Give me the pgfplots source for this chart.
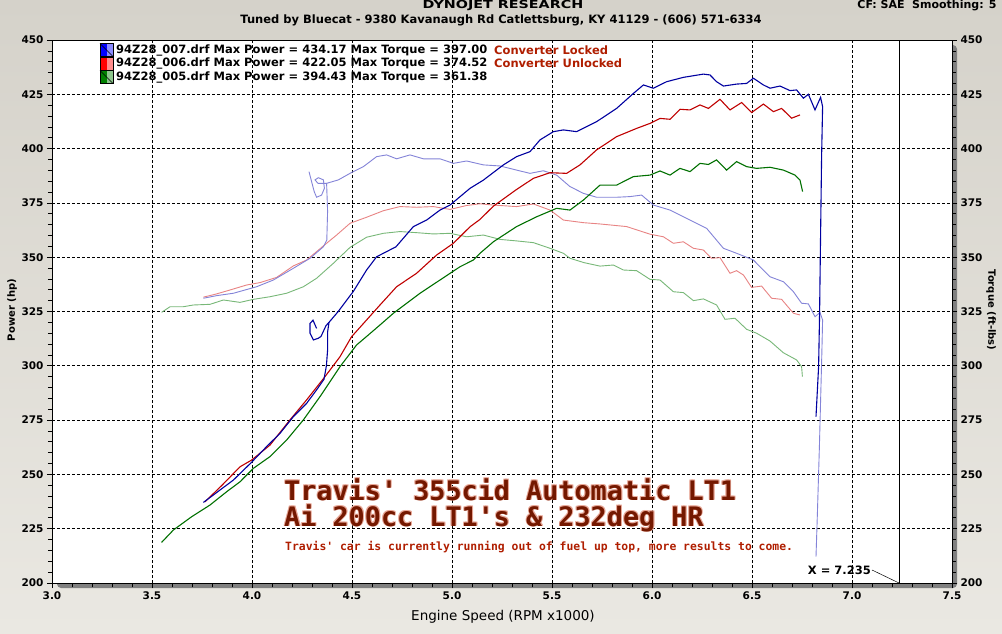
\documentclass[border=0pt]{standalone}
\usepackage{pgfplots}
\pgfplotsset{compat=1.18}
\usepackage{fontspec}
\setmainfont{DejaVu Sans}
\newfontfamily\bigmono{DejaVu Sans Mono}
\definecolor{bgtop}{HTML}{D5D2CA}
\definecolor{bgbot}{HTML}{EAE8E2}
\definecolor{shadowgray}{HTML}{808080}
\definecolor{pblue}{HTML}{0000A0}
\definecolor{pred}{HTML}{C00000}
\definecolor{pgreen}{HTML}{007000}
\definecolor{tblue}{HTML}{8484D8}
\definecolor{tred}{HTML}{E88484}
\definecolor{tgreen}{HTML}{78B878}
\definecolor{txtred}{HTML}{B01E00}
\definecolor{bigred}{HTML}{741800}
\definecolor{bigglow}{HTML}{E8A898}
\begin{document}
\begin{tikzpicture}[x=1pt,y=1pt]
\path[use as bounding box] (0,0) rectangle (1002,633);
\shade[top color=bgtop, bottom color=bgbot] (0,0) rectangle (1002,633);
\fill[shadowgray, rounded corners=4pt] (57,45) rectangle (957,588);
\begin{axis}[
  at={(52pt,50pt)}, anchor=south west, scale only axis,
  width=900pt, height=543pt,
  xmin=3, xmax=7.5, ymin=200, ymax=450,
  axis background/.style={fill=white},
  axis line style={black, line width=0.8pt},
  xtick={3,3.5,4,4.5,5,5.5,6,6.5,7,7.5},
  ytick={200,225,250,275,300,325,350,375,400,425,450},
  minor x tick num=4, minor y tick num=4,
  tick pos=left, tick align=outside,
  major tick length=5pt, minor tick length=4pt,
  tick style={black, line width=0.7pt},
  grid=major,
  major grid style={black, line width=0.7pt, dash pattern=on 3pt off 2pt},
  /pgf/number format/assume math mode=true,
  ticklabel style={font=\bfseries\fontsize{10.5}{12}\selectfont},
  xticklabel style={/pgf/number format/.cd, fixed, fixed zerofill, precision=1},
  yticklabel style={/pgf/number format/.cd, fixed, precision=0},
  clip=false,
]
% cursor line
\addplot[black, line width=0.8pt] coordinates {(7.235,200) (7.235,450)};
% ---- torque curves (light)
\addplot[tgreen, line width=0.9pt] coordinates {
(3.548,324.6) (3.59,327.2) (3.657,327.2) (3.707,328) (3.79,328.3) (3.857,330.3) (3.94,329.2) (4.007,330.6) (4.09,331.8) (4.173,333.4) (4.257,336.4) (4.323,340.3) (4.407,347.2) (4.49,354.5) (4.573,359.2) (4.657,361) (4.74,361.8) (4.823,361.3) (4.907,360.7) (4.99,361) (5.073,359.4) (5.157,360.2) (5.24,358.2) (5.323,357.5) (5.407,356.7) (5.49,354.1) (5.557,351.8) (5.59,349.5) (5.66,347.5) (5.74,345.9) (5.807,346.4) (5.857,344.1) (5.923,343.8) (5.99,339.8) (6.04,339.5) (6.107,334.1) (6.157,333.7) (6.207,330) (6.257,330.8) (6.323,328) (6.365,321.4) (6.415,321.9) (6.473,316.8) (6.523,315) (6.59,311.4) (6.657,306) (6.723,302.7) (6.748,299.6) (6.752,295)
};
\addplot[tred, line width=0.9pt] coordinates {
(3.757,331.6) (3.823,333.1) (3.89,334.9) (3.973,337.2) (4.04,338.3) (4.123,340.7) (4.207,346) (4.273,348.7) (4.357,355.2) (4.423,360.2) (4.49,365.6) (4.573,368.4) (4.657,371.4) (4.74,373.3) (4.823,373) (4.907,373.3) (4.99,372) (5.073,373.8) (5.14,374.6) (5.207,374) (5.323,373.3) (5.407,374.5) (5.49,371.7) (5.557,367.1) (5.657,365.9) (5.74,365.3) (5.873,364.1) (5.99,360.6) (6.057,359.4) (6.107,356.4) (6.157,357.1) (6.207,354.1) (6.257,353.3) (6.298,349.5) (6.34,349.8) (6.39,342.6) (6.423,343.8) (6.457,341.8) (6.498,336.1) (6.548,336.7) (6.598,331.1) (6.648,330.6) (6.707,324.2) (6.74,323.4)
};
\addplot[tblue, line width=0.9pt] coordinates {
(3.757,331.1) (3.823,332.3) (3.907,333.4) (4.023,336.4) (4.107,339.5) (4.207,344.9) (4.29,349.5) (4.357,354.8) (4.374,357.9) (4.378,371.1) (4.373,384)
(4.432,385.6) (4.49,388.6) (4.507,389.4) (4.557,391.7) (4.623,396.3) (4.673,397.1) (4.723,395.3) (4.79,397.1) (4.857,395.3) (4.94,395.3) (5.007,393.2) (5.073,394.3) (5.157,392.5) (5.24,392) (5.323,390.1) (5.39,388.6) (5.457,389.8) (5.523,387.8) (5.59,382.5) (5.657,379.4) (5.723,377.6) (5.823,377.6) (5.89,377.9) (5.948,378.6) (6.007,374) (6.09,371.7) (6.19,367.1) (6.273,363.3) (6.357,354.1) (6.423,351.8) (6.507,348.7) (6.59,341) (6.657,338.7) (6.707,334.1) (6.748,328.8) (6.782,328.5) (6.815,322.6) (6.84,324.5) (6.853,321.1) (6.849,305) (6.843,284) (6.837,262.8) (6.827,232.1) (6.82,212.1)
};
\addplot[tblue, line width=0.9pt] coordinates {
(4.373,384) (4.33,384) (4.315,385.6) (4.332,386.6) (4.357,385.6) (4.362,381.7) (4.348,378.6) (4.323,377.6) (4.311,380.2) (4.285,389.4)
};
% ---- power curves (dark)
\addplot[pgreen, line width=1.1pt] coordinates {
(3.548,218.7) (3.607,224.4) (3.698,230.5) (3.79,235.9) (3.873,242) (3.94,246.6) (4.007,252.8) (4.09,258.2) (4.173,265.8) (4.257,275.1) (4.34,285.8) (4.44,299.6) (4.523,309.6) (4.573,313.5) (4.64,318.8) (4.707,324.2) (4.84,333.4) (4.94,339.5) (5.04,345.6) (5.107,348.7) (5.14,351.8) (5.207,357.1) (5.323,364.1) (5.423,368.6) (5.523,372.5) (5.59,371.7) (5.657,376.3) (5.74,383.2) (5.823,383.2) (5.907,387.1) (5.99,387.8) (6.04,389.7) (6.09,387.8) (6.14,390.9) (6.19,389.4) (6.24,393.2) (6.282,392.7) (6.323,394.8) (6.373,390.1) (6.423,394) (6.473,391.7) (6.523,390.9) (6.59,391.4) (6.657,390.1) (6.715,387.8) (6.74,385.5) (6.753,380.2)
};
\addplot[pred, line width=1.1pt] coordinates {
(3.765,237.4) (3.85,245) (3.94,253.5) (3.998,256.6) (4.09,263.5) (4.19,275.1) (4.273,284.3) (4.365,295) (4.44,304.2) (4.498,313.4) (4.573,321.1) (4.64,328) (4.723,336.4) (4.823,342.6) (4.923,351) (5.007,356.4) (5.09,364) (5.14,367.4) (5.207,373.5) (5.323,381.2) (5.407,386.3) (5.49,388.9) (5.573,388.6) (5.64,392.5) (5.723,399.4) (5.823,405.5) (5.923,409.3) (5.99,411.6) (6.04,413.9) (6.09,413.5) (6.14,418.1) (6.19,417.8) (6.24,420.1) (6.282,418.5) (6.34,422.7) (6.39,417.8) (6.448,421.2) (6.498,416.6) (6.557,420.5) (6.607,417) (6.648,418.5) (6.698,414) (6.74,415.5)
};
\addplot[pblue, line width=1.1pt] coordinates {
(3.757,237.1) (3.84,242.8) (3.907,247.4) (3.998,255.6) (4.073,262.8) (4.14,268.9) (4.207,276.6) (4.273,282.7) (4.323,288.9) (4.36,293.8) (4.372,300) (4.378,307.3) (4.378,315.5) (4.385,320)
(4.432,325.1) (4.507,334.3) (4.573,344.1) (4.623,350.2) (4.72,354.8) (4.807,364.1) (4.873,367.1) (4.94,371.7) (4.99,374) (5.09,381.7) (5.157,385.5) (5.257,392.5) (5.323,396.3) (5.39,398.6) (5.44,404) (5.507,407.8) (5.557,408.6) (5.623,407.8) (5.723,412.4) (5.823,418.5) (5.907,425.4) (5.957,429.3) (6.007,427.8) (6.073,430.8) (6.157,432.8) (6.257,434.3) (6.29,433.9) (6.323,430.8) (6.357,428.8) (6.423,429.7) (6.473,430) (6.507,432.4) (6.557,429.3) (6.59,427.8) (6.64,428.8) (6.69,426.7) (6.723,427) (6.757,423.2) (6.782,425) (6.815,417.8) (6.843,423.6) (6.853,419.3) (6.848,396.3) (6.84,339.5) (6.838,324.2) (6.833,299.6) (6.82,276.6)
};
\addplot[pblue, line width=1.1pt] coordinates {
(4.385,320) (4.37,318.5) (4.345,313.5) (4.332,312.7) (4.307,311.9) (4.29,315) (4.29,319.5) (4.305,321) (4.323,317.2)
};
\end{axis}
\begin{axis}[
  at={(52pt,50pt)}, anchor=south west, scale only axis,
  width=900pt, height=543pt,
  xmin=3, xmax=7.5, ymin=200, ymax=450,
  axis x line=none, axis y line*=right,
  axis line style={black, line width=0.8pt},
  ytick={200,225,250,275,300,325,350,375,400,425,450},
  minor y tick num=4, tick align=outside,
  major tick length=5pt, minor tick length=4pt,
  tick style={black, line width=0.7pt},
  /pgf/number format/assume math mode=true,
  ticklabel style={font=\bfseries\fontsize{10.5}{12}\selectfont},
  yticklabel style={/pgf/number format/.cd, fixed, precision=0},
]
\addplot[draw=none] coordinates {(3,200)};
\end{axis}
% titles
\node[font=\bfseries\fontsize{11}{13}\selectfont] at (503,627) {\scalebox{1.3}[1]{DYNOJET RESEARCH}};
\node[font=\bfseries\fontsize{11.5}{13}\selectfont] at (501,613) {Tuned by Bluecat - 9380 Kavanaugh Rd Catlettsburg, KY 41129 - (606) 571-6334};
\node[font=\bfseries\fontsize{11}{13}\selectfont, anchor=east] at (1000,627) {CF: SAE\ \ Smoothing: 5};
\node[font=\bfseries\fontsize{10}{12}\selectfont, rotate=90] at (12,323) {Power (hp)};
\node[font=\bfseries\fontsize{10}{12}\selectfont, rotate=-90] at (991,323) {Torque (ft-lbs)};
\node[font=\fontsize{13.5}{15}\selectfont] at (503,16) {Engine Speed (RPM x1000)};
% legend
\begin{scope}[font=\bfseries\fontsize{11.5}{13}\selectfont]
\fill[blue] (100,576.5) rectangle (106.5,589.5); \fill[blue!45] (106.5,576.5) rectangle (113,589.5);
\draw[black, line width=0.5pt] (100,576.5) rectangle (113,589.5); \draw[black, line width=0.4pt] (100,589.5) -- (113,576.5);
\node[anchor=west, inner sep=0pt] at (116,583) {94Z28\_007.drf Max Power = 434.17 Max Torque = 397.00};
\fill[red] (100,563) rectangle (106.5,576); \fill[red!45] (106.5,563) rectangle (113,576);
\draw[black, line width=0.5pt] (100,563) rectangle (113,576);
\node[anchor=west, inner sep=0pt] at (116,569.5) {94Z28\_006.drf Max Power = 422.05 Max Torque = 374.52};
\fill[green!50!black] (100,549.5) rectangle (106.5,562.5); \fill[green!50!black!45] (106.5,549.5) rectangle (113,562.5);
\draw[black, line width=0.5pt] (100,549.5) rectangle (113,562.5); \draw[black, line width=0.4pt] (100,562.5) -- (113,549.5);
\node[anchor=west, inner sep=0pt] at (116,556) {94Z28\_005.drf Max Power = 394.43 Max Torque = 361.38};
\node[anchor=west, inner sep=0pt, text=txtred] at (494,583) {Converter Locked};
\node[anchor=west, inner sep=0pt, text=txtred] at (494,569.5) {Converter Unlocked};
\end{scope}
% big annotation with a soft pink outline
\begin{scope}[font=\bigmono\bfseries\fontsize{26.8}{30}\selectfont]
\foreach \dx/\dy in {0.9/0.9,-0.9/-0.9,0.9/-0.9,-0.9/0.9}{
 \node[anchor=base west, inner sep=0pt, text=bigglow] at (284+\dx,133+\dy) {Travis' 355cid Automatic LT1};
 \node[anchor=base west, inner sep=0pt, text=bigglow] at (284+\dx,107+\dy) {Ai 200cc LT1's \& 232deg HR};
}
\node[anchor=base west, inner sep=0pt, text=bigred] at (284,133) {Travis' 355cid Automatic LT1};
\node[anchor=base west, inner sep=0pt, text=bigred] at (284,107) {Ai 200cc LT1's \& 232deg HR};
\end{scope}
\node[anchor=west, inner sep=0pt, text=txtred, font=\bigmono\bfseries\fontsize{11.4}{13}\selectfont] at (285,86) {Travis' car is currently running out of fuel up top, more results to come.};
% cursor label
\node[anchor=east, inner sep=0pt, font=\bfseries\fontsize{11.5}{13}\selectfont] at (871,63) {X = 7.235};
\draw[black, line width=0.5pt] (872,63) -- (899,50);
\end{tikzpicture}
\end{document}
